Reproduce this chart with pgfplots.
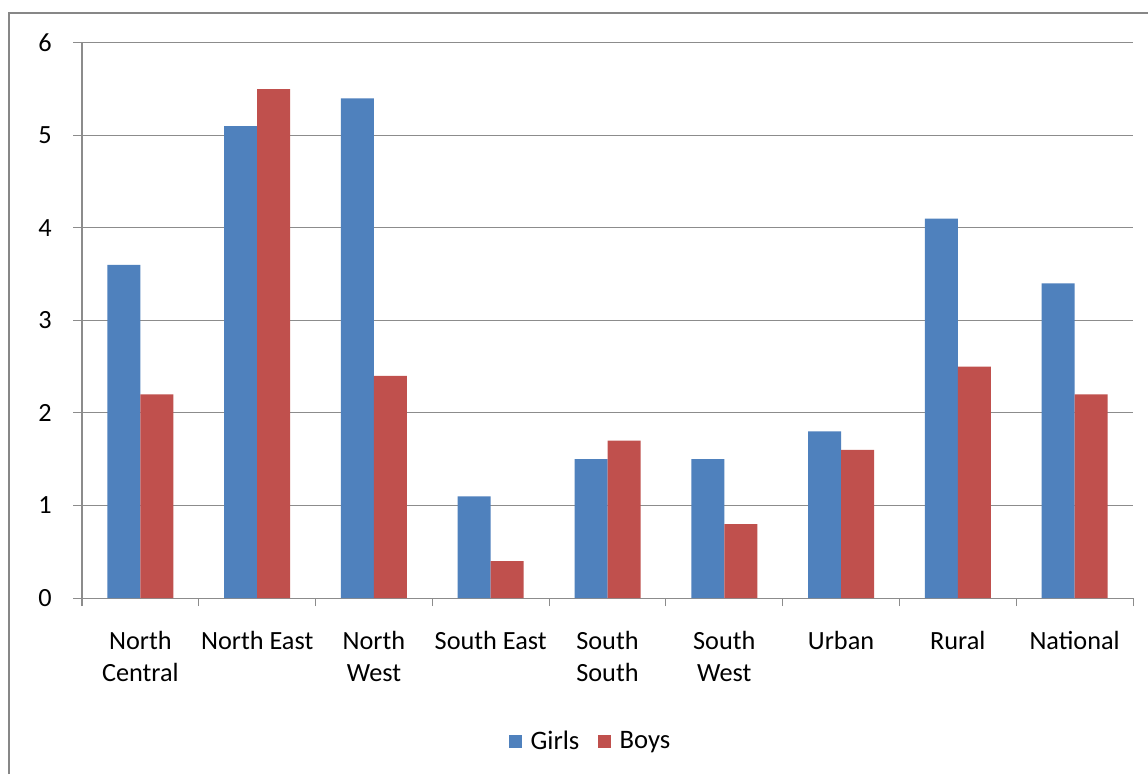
\documentclass[border=0pt]{standalone}
\usepackage{pgfplots}
\pgfplotsset{compat=1.18}
\usepackage{fontspec}
\setmainfont{Carlito}
\definecolor{girls}{HTML}{4F81BD}
\definecolor{boys}{HTML}{C0504D}
\definecolor{gridgray}{HTML}{8C8C8C}
\definecolor{framegray}{HTML}{878787}
\begin{document}
\begin{tikzpicture}
% picture is 1148 x 774 px, 1px = 0.75pt
\useasboundingbox (0pt,0pt) rectangle (861pt,580.5pt);
\fill[white] (0pt,0pt) rectangle (861pt,580.5pt);
\draw[framegray, line width=1.5pt] (6.4pt,0pt) -- (6.4pt,571.1pt) -- (861pt,571.1pt);
\begin{axis}[
    at={(61.5pt,132pt)}, anchor=south west,
    scale only axis,
    width=788.25pt, height=416.25pt,
    xmin=-0.5, xmax=8.5,
    ymin=0, ymax=6,
    ybar=0pt, bar width=24.75pt,
    axis lines*=left,
    axis line style={gridgray, line width=0.75pt},
    tick align=outside,
    xtick={0,...,8},
    major x tick style={draw=none},
    minor xtick={-0.5,0.5,...,8.5},
    minor x tick style={gridgray, line width=0.75pt},
    minor tick length=6pt,
    ytick={0,...,6},
    major tick length=6.75pt,
    ytick style={gridgray, line width=0.75pt},
    ymajorgrids,
    grid style={gridgray, line width=0.75pt},
    xticklabels={North\\Central, North East, North\\West, South East, South\\South, South\\West, Urban, Rural, National},
    xticklabel style={align=center, anchor=north, font=\fontsize{19.7}{24}\selectfont, yshift=-14.75pt},
    yticklabel style={font=\fontsize{19.7}{24}\selectfont, xshift=-12.5pt},
    /pgf/number format/assume math mode=true,
    legend style={at={(0.4843,-0.2577)}, anchor=center, draw=none, fill=none,
        legend columns=-1, font=\fontsize{20}{24}\selectfont,
        /tikz/every odd column/.append style={column sep=4.5pt},
        /tikz/every even column/.append style={column sep=12pt}},
    legend image code/.code={\fill[#1] (0pt,-4.875pt) rectangle (9.75pt,4.875pt);},
]
\addplot[fill=girls, draw=none] coordinates {
    (0,3.6) (1,5.1) (2,5.4) (3,1.1) (4,1.5) (5,1.5) (6,1.8) (7,4.1) (8,3.4)
};
\addplot[fill=boys, draw=none] coordinates {
    (0,2.2) (1,5.5) (2,2.4) (3,0.4) (4,1.7) (5,0.8) (6,1.6) (7,2.5) (8,2.2)
};
\legend{Girls, Boys}
\end{axis}
\end{tikzpicture}
\end{document}
